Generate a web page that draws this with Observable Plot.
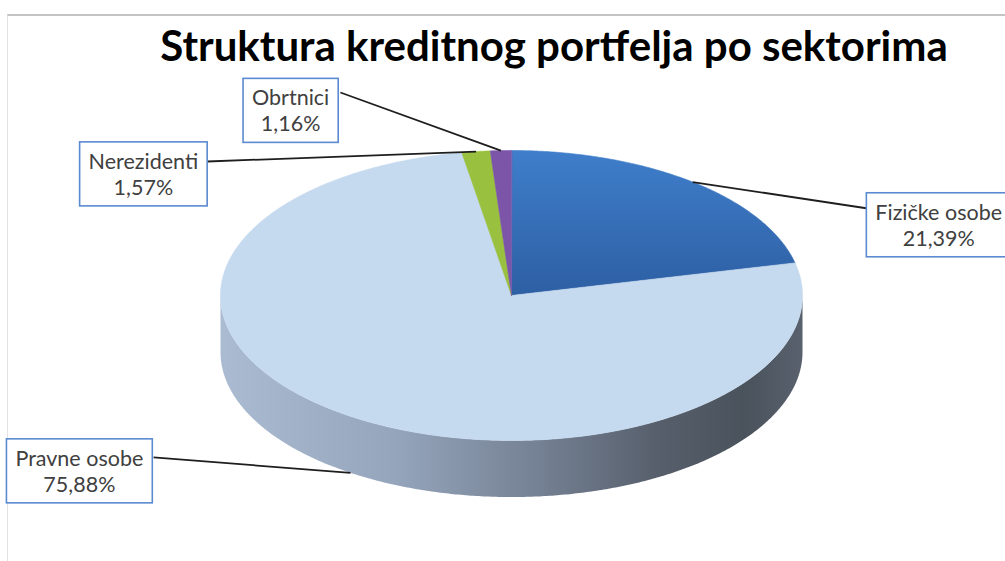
<!DOCTYPE html>
<html><head><meta charset="utf-8">
<script src="https://cdn.jsdelivr.net/npm/d3@7"></script>
<script src="https://cdn.jsdelivr.net/npm/@observablehq/plot@0.6"></script>
<style>
body{margin:0;background:#fff;overflow:hidden;}
#frame{position:absolute;left:7px;top:14px;width:998px;height:547px;border-top:2px solid #c4c4c4;border-left:1px solid #e2e2e2;}
#chart{position:absolute;left:0;top:0;}
</style></head><body>
<div id="frame"></div>
<div id="chart"></div>
<script>
// ---- data ----
const title = "Struktura kreditnog portfelja po sektorima";
const sectors = ["Fizičke osobe", "Pravne osobe", "Nerezidenti", "Obrtnici"];
const shares = [21.39, 75.88, 1.57, 1.16];

// ---- styles / layout ----
const sliceColors = ["url(#gBlue)", "#c5d9ef", "#99c03e", "#7c55a9"];
const depth = 0.39;                 // pie thickness, in units of the vertical radius
const labelPos = [[1.468, 0.49], [-1.485, -1.207], [-1.265, 0.841], [-0.759, 1.279]];
const leaderStart = [[1.225, 0.60], [-1.23, -1.117], [-1.045, 0.924], [-0.588, 1.40]];
const leaderOnSide = [false, true, false, false];

// ---- geometry derived from data ----
const arcs = d3.pie().sort(null).value(d => d)(shares);
function arcPts(a0, a1, dy = 0) {
  const n = Math.max(2, Math.ceil(Math.abs(a1 - a0) / (Math.PI / 360)));
  return d3.range(n + 1).map(i => {
    const a = a0 + (a1 - a0) * i / n;
    return {x: Math.sin(a), y: Math.cos(a) - dy};
  });
}
const slicePolys = arcs.map(a => [{x: 0, y: 0}, ...arcPts(a.startAngle, a.endAngle)]);
const side = [...arcPts(Math.PI / 2, 3 * Math.PI / 2), ...arcPts(3 * Math.PI / 2, Math.PI / 2, depth)];
const fmt = v => v.toFixed(2).replace(".", ",") + "%";
const labels = sectors.map((s, i) => ({x: labelPos[i][0], y: labelPos[i][1], text: s + "\n" + fmt(shares[i])}));
const leaders = arcs.map((a, i) => {
  const m = (a.startAngle + a.endAngle) / 2;
  return {x1: leaderStart[i][0], y1: leaderStart[i][1], x2: Math.sin(m), y2: Math.cos(m) - (leaderOnSide[i] ? depth : 0)};
});

const defs = () => {
  const d = d3.create("svg:defs");
  const gs = d.append("linearGradient").attr("id", "gSide").attr("x1", 0).attr("x2", 1).attr("y1", 0).attr("y2", 0);
  [[0, "#abbcd2"], [0.3, "#95a5bb"], [0.55, "#748093"], [0.75, "#575f6c"], [0.9, "#4a525c"], [1, "#58616d"]]
    .forEach(([o, c]) => gs.append("stop").attr("offset", o).attr("stop-color", c));
  const gb = d.append("linearGradient").attr("id", "gBlue").attr("x1", 0).attr("x2", 0).attr("y1", 0).attr("y2", 1);
  [[0, "#3f7ecb"], [1, "#2d5fa3"]].forEach(([o, c]) => gb.append("stop").attr("offset", o).attr("stop-color", c));
  return d.node();
};

const plot = Plot.plot({
  width: 1005, height: 561, margin: 0,
  x: {domain: [-1, 1], range: [220, 802], axis: null},
  y: {domain: [-1, 1], range: [440, 150], axis: null},
  style: {fontFamily: "Lato, 'Open Sans', sans-serif", background: "transparent", overflow: "hidden"},
  marks: [
    defs,
    Plot.line(side, {x: "x", y: "y", fill: "url(#gSide)", stroke: "none", curve: "linear-closed"}),
    ...slicePolys.map((p, i) => Plot.line(p, {x: "x", y: "y", fill: sliceColors[i], stroke: sliceColors[i], strokeWidth: 0.6, curve: "linear-closed"})),
    Plot.link(leaders, {x1: "x1", y1: "y1", x2: "x2", y2: "y2", stroke: "#1e1e1e", strokeWidth: 1.8}),
    Plot.text(labels, {x: "x", y: "y", text: "text", fontSize: 21.5, fill: "#404040", lineHeight: 1.21}),
    Plot.text([title], {frameAnchor: "top", dx: 51, dy: 47, lineAnchor: "middle", fontSize: 42, fontWeight: "bold", fill: "#000"})
  ]
});
document.getElementById("chart").append(plot);
const labelGroup = plot.querySelectorAll('g[aria-label="text"]')[0];
Array.from(labelGroup.querySelectorAll("text")).forEach(t => {
  const b = t.getBBox();
  const padX = 9, padY = 6;
  const r = document.createElementNS("http://www.w3.org/2000/svg", "rect");
  if (t.getAttribute("transform")) r.setAttribute("transform", t.getAttribute("transform"));
  r.setAttribute("x", b.x - padX); r.setAttribute("y", b.y - padY);
  r.setAttribute("width", b.width + 2 * padX); r.setAttribute("height", b.height + 2 * padY);
  r.setAttribute("fill", "#fff"); r.setAttribute("stroke", "#5a8ad0"); r.setAttribute("stroke-width", 1.6);
  t.parentNode.insertBefore(r, t);
});
</script>
</body></html>
